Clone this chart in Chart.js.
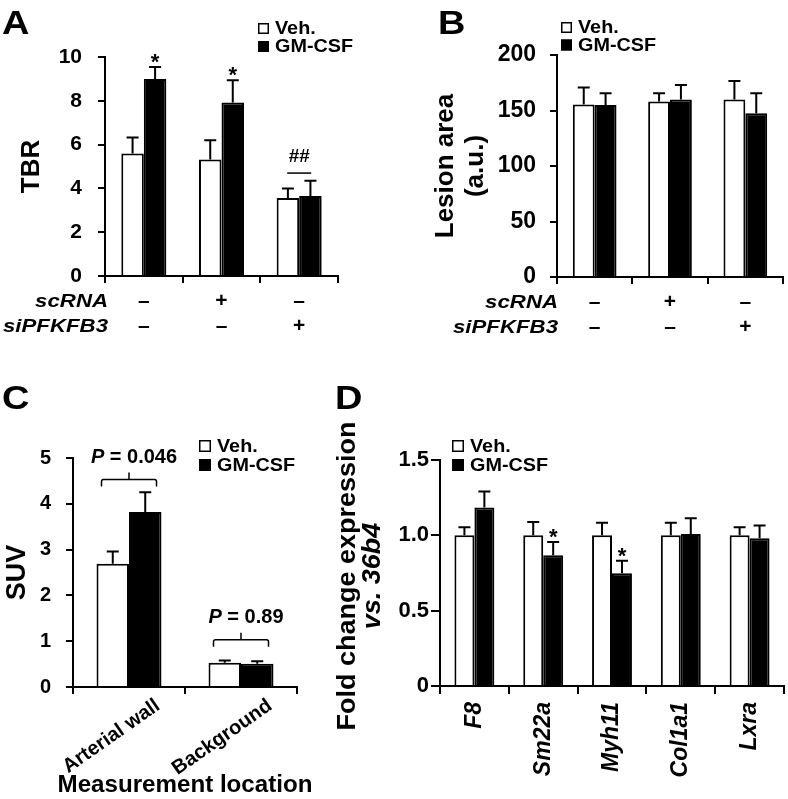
<!DOCTYPE html>
<html><head><meta charset="utf-8">
<script src="https://cdn.jsdelivr.net/npm/chart.js@4.4.1/dist/chart.umd.min.js"></script>
<style>
html,body{margin:0;padding:0;background:#fff;}
#wrap{position:relative;width:788px;height:799px;overflow:hidden;background:#fff;}
#wrap canvas{position:absolute;left:0;top:0;}
</style></head><body>
<div id="wrap">
<canvas id="cA" width="788" height="799"></canvas>
<canvas id="cB" width="788" height="799"></canvas>
<canvas id="cC" width="788" height="799"></canvas>
<canvas id="cD" width="788" height="799"></canvas>
</div>
<script>
// ---------- data ----------
const seriesNames = ['Veh.', 'GM-CSF'];
const rowLabelsAB = ['scRNA', 'siPFKFB3'];
const catAB = [['–', '–'], ['+', '–'], ['–', '+']];

const vehA = [5.59, 5.32, 3.56];
const gmA = [9.0, 7.92, 3.65];
const vehAErr = [0.73, 0.88, 0.44];
const gmAErr = [0.54, 1.02, 0.70];
const sigA = ['*', '*', ''];
const hashA = ['', '', '##'];
const hashLineA = [null, null, 4.7];

const vehB = [155.5, 158, 160];
const gmB = [155, 160, 147.5];
const vehBErr = [15.3, 7.5, 16.5];
const gmBErr = [10.5, 13, 18];

const catC = ['Arterial wall', 'Background'];
const vehC = [2.69, 0.53];
const gmC = [3.82, 0.51];
const vehCErr = [0.27, 0.05];
const gmCErr = [0.43, 0.05];
const pC = ['0.046', '0.89'];
const bracketC = [4.53, 1.03];

const catD = ['F8', 'Sm22a', 'Myh11', 'Col1a1', 'Lxra'];
const vehD = [1.0, 1.0, 1.0, 1.0, 1.0];
const gmD = [1.185, 0.868, 0.748, 1.009, 0.980];
const vehDErr = [0.053, 0.088, 0.084, 0.084, 0.053];
const gmDErr = [0.106, 0.088, 0.084, 0.104, 0.086];
const sigD = ['', '*', '*', '', ''];

// ---------- styling helpers ----------
const FAM = "'Liberation Sans', Arial, Helvetica, sans-serif";
Chart.defaults.font.family = FAM;
Chart.defaults.font.weight = 'bold';
Chart.defaults.color = '#000';
function F(size, italic) { return (italic ? 'italic ' : '') + 'bold ' + size + 'px ' + FAM; }

// draw text with optional horizontal stretch (sx) and rotation
function txt(ctx, s, x, y, o) {
  ctx.save();
  ctx.translate(x, y);
  if (o.rot) ctx.rotate(o.rot);
  ctx.scale(o.sx || 1, o.sy || 1);
  ctx.font = F(o.size, o.italic);
  ctx.textAlign = o.align || 'left';
  ctx.textBaseline = o.baseline || 'middle';
  ctx.fillStyle = '#000';
  ctx.fillText(s, 0, 0);
  ctx.restore();
}

function datasets(v, ve, g, ge) {
  return [
    { label: seriesNames[0], data: v, errors: ve, backgroundColor: '#ffffff', borderColor: '#000', borderWidth: 2 },
    { label: seriesNames[1], data: g, errors: ge, backgroundColor: '#000000', borderColor: '#000', borderWidth: 2 }
  ];
}

const errorBars = {
  id: 'errorBars',
  afterDatasetsDraw(chart) {
    const ctx = chart.ctx, ys = chart.scales.y;
    ctx.save(); ctx.strokeStyle = '#000'; ctx.lineWidth = 2;
    chart.data.datasets.forEach((ds, di) => {
      chart.getDatasetMeta(di).data.forEach((bar, i) => {
        const top = ys.getPixelForValue(ds.data[i] + ds.errors[i]);
        ctx.beginPath();
        ctx.moveTo(bar.x, bar.y); ctx.lineTo(bar.x, top);
        ctx.moveTo(bar.x - 6, top); ctx.lineTo(bar.x + 6, top);
        ctx.stroke();
      });
    });
    ctx.restore();
  }
};

const boxLegend = {
  id: 'boxLegend',
  afterDraw(chart, args, o) {
    const ctx = chart.ctx;
    ctx.save();
    chart.data.datasets.forEach((ds, i) => {
      const y = o.y + i * o.gap;
      ctx.fillStyle = ds.backgroundColor;
      ctx.fillRect(o.x, y - o.box / 2, o.box, o.box);
      ctx.strokeStyle = '#000'; ctx.lineWidth = 1.5;
      ctx.strokeRect(o.x + 0.75, y - o.box / 2 + 0.75, o.box - 1.5, o.box - 1.5);
      txt(ctx, ds.label, o.x + o.box + 6, y + 1, { size: o.size, sx: 1.1 });
    });
    ctx.restore();
  }
};

const rowLabels = {
  id: 'rowLabels',
  afterDraw(chart, args, o) {
    if (!o || o.x === undefined) return;
    const ctx = chart.ctx, xs = chart.scales.x;
    const lh = 25, y0 = xs.top + 7 + 6 + lh / 2;
    rowLabelsAB.forEach((t, i) => txt(ctx, t, o.x, y0 + i * lh, { size: 19, italic: true, align: 'right', sx: 1.17 }));
  }
};

function letter(ctx, t, x, y) {
  txt(ctx, t, x, y, { size: 33, baseline: 'alphabetic', sx: 1.15 });
}
function stars(chart, sig, vals, errs) {
  const ctx = chart.ctx, ys = chart.scales.y, bars = chart.getDatasetMeta(1).data;
  sig.forEach((s, i) => {
    if (s) txt(ctx, s, bars[i].x, ys.getPixelForValue(vals[i] + errs[i]) + 2, { size: 22, align: 'center', baseline: 'alphabetic' });
  });
}

function axisX(extra) {
  return Object.assign({
    grid: { drawOnChartArea: false, drawTicks: true, tickLength: 7, color: '#000', lineWidth: 2 },
    border: { display: true, color: '#000', width: 2 },
    ticks: { autoSkip: false, maxRotation: 0, minRotation: 0, padding: 6, font: { size: 21, lineHeight: 1.19 } }
  }, extra || {});
}
function axisY(extra) {
  return Object.assign({
    grid: { drawOnChartArea: false, drawTicks: true, tickLength: 7, color: '#000', lineWidth: 2 },
    border: { display: true, color: '#000', width: 2 }
  }, extra || {});
}
const baseOpts = {
  responsive: false, animation: false, events: [],
  datasets: { bar: { categoryPercentage: 0.58, barPercentage: 1 } }
};

// ---------- Panel A ----------
new Chart('cA', {
  type: 'bar',
  data: { labels: catAB, datasets: datasets(vehA, vehAErr, gmA, gmAErr) },
  options: Object.assign({}, baseOpts, {
    layout: { padding: { left: 10, top: 57, right: 788 - 338, bottom: 799 - 276 - 70 } },
    plugins: { legend: { display: false }, tooltip: { enabled: false },
      boxLegend: { x: 258, y: 28.5, gap: 18, box: 11, size: 18 }, rowLabels: { x: 108 } },
    scales: {
      x: axisX({ afterFit: s => { s.height = 70; } }),
      y: axisY({ min: 0, max: 10, ticks: { stepSize: 2, padding: 16, font: { size: 21 } },
        title: { display: true, text: 'TBR', font: { size: 26 }, padding: { top: 6, bottom: 0 } },
        afterFit: s => { s.width = 95; } })
    }
  }),
  plugins: [errorBars, boxLegend, rowLabels, {
    id: 'annA',
    afterDraw(chart) {
      const ctx = chart.ctx, xs = chart.scales.x, ys = chart.scales.y;
      letter(ctx, 'A', 2, 34);
      stars(chart, sigA, gmA, gmAErr);
      hashA.forEach((s, i) => {
        if (!s) return;
        const c = xs.getPixelForValue(i), y = ys.getPixelForValue(hashLineA[i]);
        ctx.save(); ctx.strokeStyle = '#000'; ctx.lineWidth = 1.5;
        ctx.beginPath(); ctx.moveTo(c - 12, y); ctx.lineTo(c + 12, y); ctx.stroke();
        ctx.restore();
        txt(ctx, s, c, y - 16, { size: 18, align: 'center', sx: 1.05 });
      });
    }
  }]
});

// ---------- Panel B ----------
new Chart('cB', {
  type: 'bar',
  data: { labels: catAB, datasets: datasets(vehB, vehBErr, gmB, gmBErr) },
  options: Object.assign({}, baseOpts, {
    layout: { padding: { left: 425, top: 55, right: 788 - 783, bottom: 799 - 277 - 70 } },
    plugins: { legend: { display: false }, tooltip: { enabled: false },
      boxLegend: { x: 561, y: 27.5, gap: 17.5, box: 11, size: 18 }, rowLabels: { x: 558 } },
    scales: {
      x: axisX({ afterFit: s => { s.height = 70; } }),
      y: axisY({ min: 0, max: 200, ticks: { stepSize: 50, padding: 14, font: { size: 23 } },
        title: { display: true, text: ['Lesion area', '(a.u.)'], font: { size: 26, lineHeight: 1.15 }, padding: { top: 6, bottom: 0 } },
        afterFit: s => { s.width = 132; } })
    }
  }),
  plugins: [errorBars, boxLegend, rowLabels, {
    id: 'annB',
    afterDraw(chart) { letter(chart.ctx, 'B', 438, 34); }
  }]
});

// ---------- Panel C ----------
new Chart('cC', {
  type: 'bar',
  data: { labels: catC, datasets: datasets(vehC, vehCErr, gmC, gmCErr) },
  options: Object.assign({}, baseOpts, {
    layout: { padding: { left: 0, top: 458, right: 788 - 297, bottom: 0 } },
    plugins: { legend: { display: false }, tooltip: { enabled: false },
      boxLegend: { x: 199, y: 446, gap: 19, box: 12, size: 18 } },
    scales: {
      x: axisX({ ticks: { autoSkip: false, maxRotation: 35, minRotation: 35, padding: 0, labelOffset: 29, font: { size: 20 } },
        afterFit: s => { s.height = 799 - 687; } }),
      y: axisY({ min: 0, max: 5, ticks: { stepSize: 1, padding: 15, font: { size: 20 } },
        title: { display: true, text: 'SUV', font: { size: 27 }, padding: { top: 1, bottom: 0 } },
        afterFit: s => { s.width = 73; } })
    }
  }),
  plugins: [errorBars, boxLegend, {
    id: 'annC',
    afterDraw(chart) {
      const ctx = chart.ctx, xs = chart.scales.x, ys = chart.scales.y;
      letter(ctx, 'C', 2, 409);
      pC.forEach((p, i) => {
        const c = xs.getPixelForValue(i), y = ys.getPixelForValue(bracketC[i]), h = 27.5;
        ctx.save(); ctx.strokeStyle = '#000'; ctx.lineWidth = 1.5;
        ctx.beginPath();
        ctx.moveTo(c - h, y + 7); ctx.lineTo(c - h, y + 2); ctx.quadraticCurveTo(c - h, y, c - h + 2, y);
        ctx.lineTo(c + h - 2, y); ctx.quadraticCurveTo(c + h, y, c + h, y + 2); ctx.lineTo(c + h, y + 7);
        ctx.moveTo(c, y); ctx.lineTo(c, y - 7);
        ctx.stroke();
        ctx.font = F(20, true); const wa = ctx.measureText('P').width;
        ctx.font = F(20); const wb = ctx.measureText(' = ' + p).width;
        ctx.restore();
        const x0 = c + 5 - (wa + wb) / 2;
        txt(ctx, 'P', x0, y - 22, { size: 20, italic: true });
        txt(ctx, ' = ' + p, x0 + wa, y - 22, { size: 20 });
      });
      txt(ctx, 'Measurement location', (chart.chartArea.left + chart.chartArea.right) / 2, 786, { size: 23, align: 'center', sx: 1.05 });
    }
  }]
});

// ---------- Panel D ----------
new Chart('cD', {
  type: 'bar',
  data: { labels: catD, datasets: datasets(vehD, vehDErr, gmD, gmDErr) },
  options: Object.assign({}, baseOpts, {
    layout: { padding: { left: 380, top: 460, right: 788 - 784, bottom: 799 - 686 - 100 } },
    plugins: { legend: { display: false }, tooltip: { enabled: false },
      boxLegend: { x: 452, y: 446, gap: 19, box: 12, size: 18 } },
    scales: {
      x: axisX({ grid: { drawOnChartArea: false, drawTicks: true, tickLength: 8, color: '#000', lineWidth: 2 },
        ticks: { autoSkip: false, maxRotation: 90, minRotation: 90, padding: 8, font: { size: 23, style: 'italic' } },
        afterFit: s => { s.height = 100; } }),
      y: axisY({ min: 0, max: 1.5,
        grid: { drawOnChartArea: false, drawTicks: true, tickLength: 9, color: '#000', lineWidth: 2 },
        ticks: { stepSize: 0.5, padding: 2, font: { size: 22 }, callback: v => (v === 0 ? '0' : Number(v).toFixed(1)) },
        afterFit: s => { s.width = 60; } })
    }
  }),
  plugins: [errorBars, boxLegend, {
    id: 'annD',
    afterDraw(chart) {
      const ctx = chart.ctx, ca = chart.chartArea;
      letter(ctx, 'D', 335, 409);
      stars(chart, sigD, gmD, gmDErr);
      const cy = (ca.top + ca.bottom) / 2 + 3;
      txt(ctx, 'Fold change expression', 348, cy, { size: 25, align: 'center', rot: -Math.PI / 2, sx: 1.08 });
      txt(ctx, 'vs. 36b4', 373, cy, { size: 25, italic: true, align: 'center', rot: -Math.PI / 2, sx: 1.08 });
    }
  }]
});
</script>
</body></html>
